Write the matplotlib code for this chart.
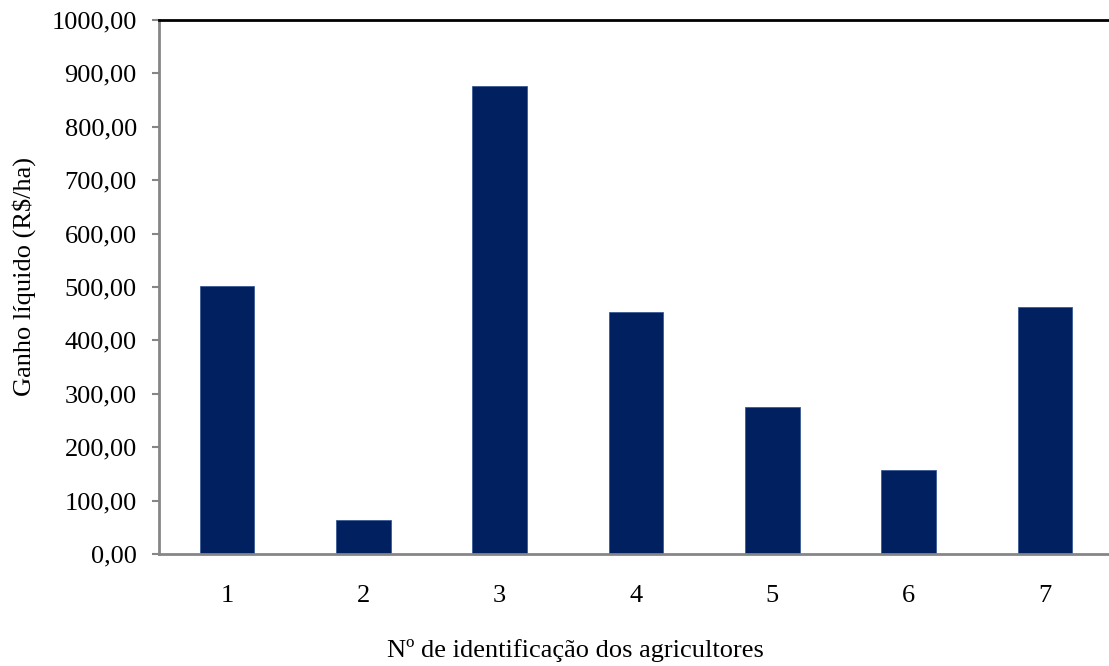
import matplotlib
matplotlib.use("Agg")
import matplotlib.pyplot as plt
from matplotlib.ticker import FuncFormatter, MultipleLocator

agricultores = ["1", "2", "3", "4", "5", "6", "7"]
ganho = [502, 64, 876, 453, 275, 157, 462]

plt.rcParams["font.family"] = ["Liberation Serif", "DejaVu Serif"]

fig = plt.figure(figsize=(11.09, 6.66), dpi=100)
ax = fig.add_axes([159 / 1109, 1 - 554 / 666, 954 / 1109, 534 / 666])

pos = list(range(1, len(agricultores) + 1))
ax.bar(pos, ganho, width=0.4, color="#002060", edgecolor="#3a5a95", linewidth=0.6, zorder=2)

ax.set_xlim(0.5, len(agricultores) + 0.5)
ax.set_ylim(0, 1000)
ax.set_xticks(pos)
ax.set_xticklabels(agricultores)
ax.yaxis.set_major_locator(MultipleLocator(100))
ax.yaxis.set_major_formatter(FuncFormatter(lambda v, p: f"{v:.2f}".replace(".", ",")))

for side in ["left", "bottom"]:
    ax.spines[side].set_color("#868686")
    ax.spines[side].set_linewidth(2)
ax.spines["right"].set_visible(False)
ax.spines["top"].set_color("black")
ax.spines["top"].set_linewidth(2)

ax.tick_params(axis="y", direction="out", length=5, width=1.5, color="#868686", labelsize=19, pad=11)
ax.tick_params(axis="x", length=0, labelsize=19, pad=22)

fig.text(24 / 1109, 1 - 277 / 666, "Ganho líquido (R$/ha)", rotation=90, ha="center", va="center", fontsize=19)
fig.text(575 / 1109, 1 - 650 / 666, "Nº de identificação dos agricultores", ha="center", va="center", fontsize=19)

fig.savefig("out.png", dpi=100)
